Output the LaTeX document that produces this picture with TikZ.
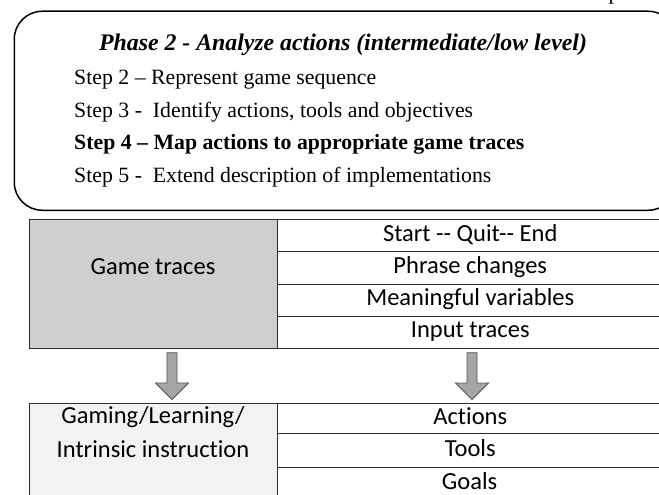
\documentclass[tikz,border=0pt]{standalone}
\usepackage{fontspec}
\setmainfont{Liberation Serif}
\newfontfamily\calibri{Carlito}[Ligatures=NoCommon]
\usetikzlibrary{calc}
\definecolor{cellgray}{RGB}{207,207,207}
\definecolor{celllight}{RGB}{242,242,242}
\definecolor{tline}{RGB}{45,45,45}
\definecolor{arrowfill}{RGB}{166,166,166}
\definecolor{arrowline}{RGB}{85,85,85}
\tikzset{
  phaseframe/.style={draw=black, line width=1.5pt, rounded corners=28pt, inner sep=0pt, anchor=north west},
  steptext/.style={anchor=west, inner sep=0pt, font=\fontsize{21.8}{26}\selectfont},
  titletext/.style={inner sep=0pt, font=\fontsize{23.8}{28}\selectfont\bfseries\itshape},
  cell/.style={draw=tline, line width=0.9pt, anchor=north west, inner sep=0pt,
     text height=16pt, text depth=4pt, font=\calibri\fontsize{24.5}{29}\selectfont},
  rcell/.style={cell, minimum width=385pt},
  celltext/.style={inner sep=0pt, text height=16pt, text depth=4pt, font=\calibri\fontsize{24.5}{29}\selectfont},
  blockarrow/.style={fill=arrowfill, draw=arrowline, line width=0.9pt, line join=miter}
}
\newcommand{\blockarr}[2]{%
  \filldraw[blockarrow] ($(#1)+(-5,0)$) -- ($(#1)+(5,0)$) -- ($(#2)+(5,-16.5)$)
    -- ($(#2)+(16.5,-16.5)$) -- (#2) -- ($(#2)+(-16.5,-16.5)$) -- ($(#2)+(-5,-16.5)$) -- cycle;}
\begin{document}
\begin{tikzpicture}[x=1pt,y=-1pt]
\useasboundingbox (0,0) rectangle (659,495);
\clip (0,0) rectangle (659,495);
\fill[white] (0,0) rectangle (659,495);

% fragment of a letter cut at the top edge
\node[anchor=base west, inner sep=0pt, font=\fontsize{22}{26}\selectfont] (pfrag) at (608.5,-0.8) {p};

% Phase box
\node[phaseframe, minimum width=662pt, minimum height=199pt] (phase) at (13.5,10.5) {};
\node[titletext] (title) at (343,45) {Phase 2 - Analyze actions (intermediate/low level)};
\node[steptext] (s2) at (74,79.5) {Step 2 – Represent game sequence};
\node[steptext] (s3) at (74,112) {Step 3 -~ Identify actions, tools and objectives};
\node[steptext, font=\fontsize{21.8}{26}\selectfont\bfseries] (s4) at (74,144.5) {Step 4 – Map actions to appropriate game traces};
\node[steptext] (s5) at (74,177) {Step 5 -~ Extend description of implementations};

% Game traces table
\node[cell, fill=cellgray, minimum width=248pt, minimum height=128.2pt] (gt) at (29.3,219.3) {};
\node[celltext] (gtt) at (153,268) {Game traces};
\node[rcell, minimum height=31.2pt] (r1) at (277.3,219.3) {Start -\kern0pt- Quit-\kern0pt- End};
\node[rcell, minimum height=33pt] (r2) at (277.3,250.5) {Phrase changes};
\node[rcell, minimum height=32pt] (r3) at (277.3,283.5) {Meaningful variables};
\node[rcell, minimum height=32pt] (r4) at (277.3,315.5) {Input traces};

% Gaming table
\node[cell, fill=celllight, minimum width=248pt, minimum height=99pt] (gl) at (29.3,402.5) {};
\node[celltext, align=center, text height=, text depth=, font=\calibri\fontsize{24.5}{33.3}\selectfont] (glt) at (153,432) {Gaming/Learning/\\Intrinsic instruction};
\node[rcell, minimum height=30.8pt] (b1) at (277.3,402.5) {Actions};
\node[rcell, minimum height=34pt] (b2) at (277.3,433.3) {Tools};
\node[rcell, minimum height=34pt] (b3) at (277.3,467.3) {};
\node[celltext] (b3t) at (469.6,483.5) {Goals};

% block arrows
\coordinate (aLtop) at (172,352.7);
\coordinate (aLtip) at (172,399.5);
\coordinate (aRtop) at (472,352.7);
\coordinate (aRtip) at (472,399.5);
\blockarr{aLtop}{aLtip}
\blockarr{aRtop}{aRtip}
\end{tikzpicture}
\end{document}
